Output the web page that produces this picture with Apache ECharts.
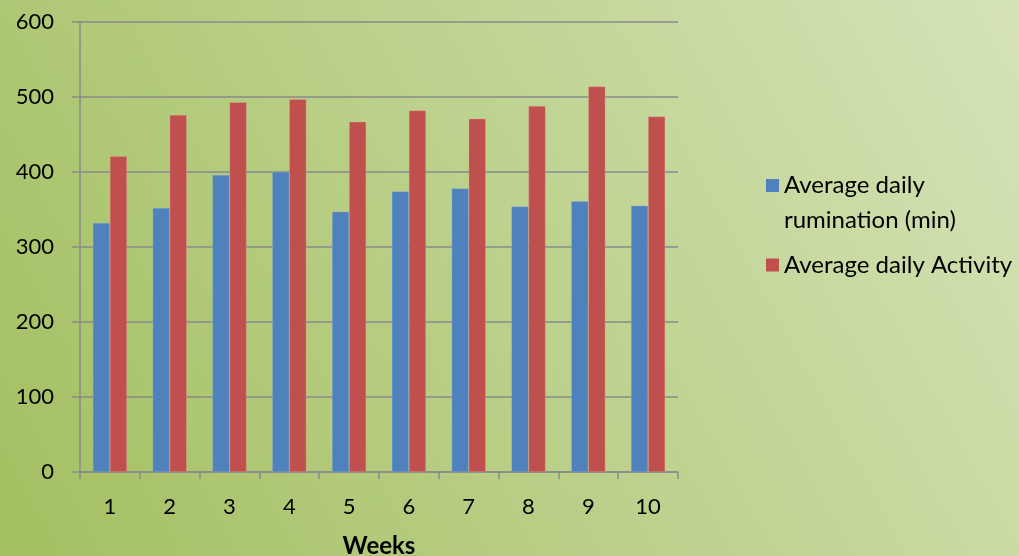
<!DOCTYPE html>
<html>
<head>
<meta charset="utf-8">
<script src="https://cdn.jsdelivr.net/npm/echarts@6/dist/echarts.min.js"></script>
<style>
  html, body { margin: 0; padding: 0; }
  #chart { width: 1019px; height: 556px; }
</style>
</head>
<body>
<div id="chart"></div>
<script>
// Weekly averages per animal
const weeks = ['1', '2', '3', '4', '5', '6', '7', '8', '9', '10'];
const rumination = [332, 352, 396, 400, 347, 374, 378, 354, 361, 355];
const activity = [421, 476, 493, 497, 467, 482, 471, 488, 514, 474];
const seriesNames = ['Average daily rumination (min)', 'Average daily Activity'];
const xAxisTitle = 'Weeks';

const FONT = 'Lato, "Open Sans", sans-serif';
const axisGray = '#8a8a8a';

// square swatch anchored at the top of a taller box, so it sits beside the first line of a wrapped label
const topSwatch = 'path://M0,0h13v13h-13z M0,48L0.001,48';

const chart = echarts.init(document.getElementById('chart'), null, { renderer: 'canvas' });

chart.setOption({
  animation: false,
  backgroundColor: new echarts.graphic.LinearGradient(0, 1, 1, 0, [
    { offset: 0, color: '#a3bf60' },
    { offset: 1, color: '#d5e3b8' }
  ]),
  textStyle: { fontFamily: FONT },
  grid: { left: 80, right: 341, top: 22, bottom: 84, outerBoundsMode: 'none', containLabel: false },
  legend: [
    {
      data: [{ name: seriesNames[0], icon: topSwatch }],
      orient: 'vertical',
      left: 766,
      top: 168,
      padding: 0,
      itemWidth: 13,
      itemHeight: 48,
      itemStyle: { borderWidth: 0 },
      formatter: () => 'Average daily\nrumination (min)',
      textStyle: { fontFamily: FONT, fontSize: 24, color: '#000', lineHeight: 35 }
    },
    {
      data: [seriesNames[1]],
      orient: 'vertical',
      left: 766,
      top: 248,
      padding: 0,
      itemWidth: 13,
      itemHeight: 13,
      icon: 'rect',
      itemStyle: { borderWidth: 0 },
      textStyle: { fontFamily: FONT, fontSize: 24, color: '#000', lineHeight: 34 }
    }
  ],
  xAxis: {
    type: 'category',
    data: weeks,
    name: xAxisTitle,
    nameLocation: 'middle',
    nameGap: 62,
    nameTextStyle: { fontFamily: FONT, fontSize: 24, fontWeight: 'bold', color: '#000' },
    axisLine: { lineStyle: { color: axisGray, width: 1.5 } },
    axisTick: { show: true, length: 7, lineStyle: { color: axisGray, width: 1.5 } },
    axisLabel: { margin: 24, fontFamily: FONT, fontSize: 22, color: '#000' }
  },
  yAxis: {
    type: 'value',
    min: 0,
    max: 600,
    interval: 100,
    axisLine: { show: true, lineStyle: { color: axisGray, width: 1.5 } },
    axisTick: { show: true, length: 8, lineStyle: { color: axisGray, width: 1.5 } },
    axisLabel: { margin: 26, fontFamily: FONT, fontSize: 22, color: '#000' },
    splitLine: { show: true, lineStyle: { color: axisGray, width: 1.5 } }
  },
  series: [
    {
      name: seriesNames[0],
      type: 'bar',
      data: rumination,
      barGap: '0%',
      barCategoryGap: '43%',
      itemStyle: { color: '#4f81bd', borderColor: 'rgba(150,180,220,0.6)', borderWidth: 0.5 }
    },
    {
      name: seriesNames[1],
      type: 'bar',
      data: activity,
      barGap: '0%',
      barCategoryGap: '43%',
      itemStyle: { color: '#c0504d', borderColor: 'rgba(225,170,150,0.7)', borderWidth: 0.5 }
    }
  ]
});
</script>
</body>
</html>
